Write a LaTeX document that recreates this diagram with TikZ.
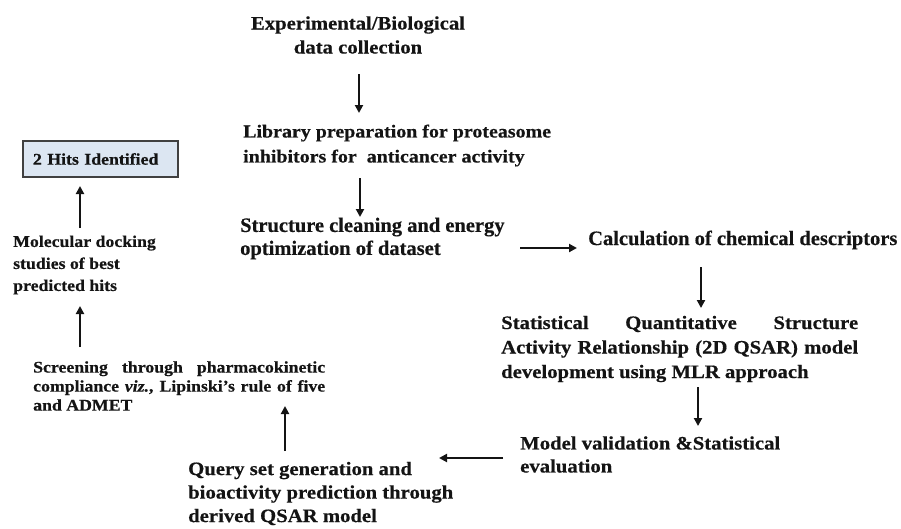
\documentclass[tikz,border=0pt]{standalone}
\usepackage{fontspec}
\setmainfont{Liberation Serif}[FakeBold=0.4]
\newfontfamily\cam[FakeStretch=1.09,FakeBold=0.5]{Liberation Serif}
\usetikzlibrary{arrows.meta}
\definecolor{boxfill}{HTML}{DCE6F2}
\definecolor{boxline}{HTML}{404040}
\definecolor{ink}{HTML}{141414}
\begin{document}
\begin{tikzpicture}[x=1pt,y=-1pt,
  big/.style={inner sep=0pt, anchor=west, align=left, text=ink, font=\cam\bfseries\fontsize{19}{24}\selectfont},
  tnr/.style={inner sep=0pt, anchor=west, align=left, text=ink, font=\bfseries\fontsize{20.5}{23}\selectfont},
  small/.style={inner sep=0pt, anchor=west, align=left, text=ink, font=\cam\bfseries\fontsize{16.3}{22}\selectfont},
  hitbox/.style={draw=boxline, line width=1.3pt, fill=boxfill, inner xsep=10pt, inner ysep=0pt,
     minimum height=36pt, text width=135pt, align=left, text=ink, font=\cam\bfseries\fontsize{16.3}{19}\selectfont},
  arr/.style={draw=ink, line width=2.7pt, -{Triangle[length=8pt,width=8pt]}}]
\useasboundingbox (0,0) rectangle (901,528);

\node[big, anchor=center, align=center] (exp) at (358,35) {Experimental/Biological\\data collection};
\node[big, font=\cam\bfseries\fontsize{18.3}{25}\selectfont] (lib) at (243,145.5)
  {Library preparation for proteasome\\inhibitors for\ \ anticancer activity};
\node[tnr] (str) at (240,238.5) {Structure cleaning and energy\\optimization of dataset};
\node[tnr] (calc) at (588,240) {Calculation of chemical descriptors};
\node[big, font=\cam\bfseries\fontsize{19}{24.5}\selectfont] (stat) at (501,349)
  {\makebox[357pt][s]{Statistical Quantitative Structure}\\
   \makebox[357pt][s]{Activity Relationship (2D QSAR) model}\\
   development using MLR approach};
\node[big, font=\cam\bfseries\fontsize{19}{23}\selectfont] (model) at (520,454.5) {Model validation \&Statistical\\evaluation};
\node[big, font=\cam\bfseries\fontsize{19}{23.5}\selectfont] (query) at (188,493.5)
  {Query set generation and\\bioactivity prediction through\\derived QSAR model};
\node[small, font=\cam\bfseries\fontsize{16.3}{19}\selectfont] (scr) at (33,386)
  {\makebox[292pt][s]{Screening through pharmacokinetic}\\
   \makebox[292pt][s]{compliance {\itshape viz.}, Lipinski’s rule of five}\\
   and ADMET};
\node[small] (mol) at (13,265) {Molecular docking\\studies of best\\predicted hits};
\node[hitbox] (hits) at (100.5,159) {2 Hits Identified};

\coordinate (a1s) at (359,74);  \coordinate (a1e) at (359,113);
\coordinate (a2s) at (360,178); \coordinate (a2e) at (360,217);
\coordinate (a3s) at (520,248); \coordinate (a3e) at (577,248);
\coordinate (a4s) at (701,267); \coordinate (a4e) at (701,308);
\coordinate (a5s) at (698,387); \coordinate (a5e) at (698,426);
\coordinate (a6s) at (503,458); \coordinate (a6e) at (439,458);
\coordinate (a7s) at (285,451); \coordinate (a7e) at (285,406);
\coordinate (a8s) at (80,347);  \coordinate (a8e) at (80,306);
\coordinate (a9s) at (80,228);  \coordinate (a9e) at (80,186);

\draw[arr] (a1s) -- (a1e);
\draw[arr] (a2s) -- (a2e);
\draw[arr] (a3s) -- (a3e);
\draw[arr] (a4s) -- (a4e);
\draw[arr] (a5s) -- (a5e);
\draw[arr] (a6s) -- (a6e);
\draw[arr] (a7s) -- (a7e);
\draw[arr] (a8s) -- (a8e);
\draw[arr] (a9s) -- (a9e);
\end{tikzpicture}
\end{document}
